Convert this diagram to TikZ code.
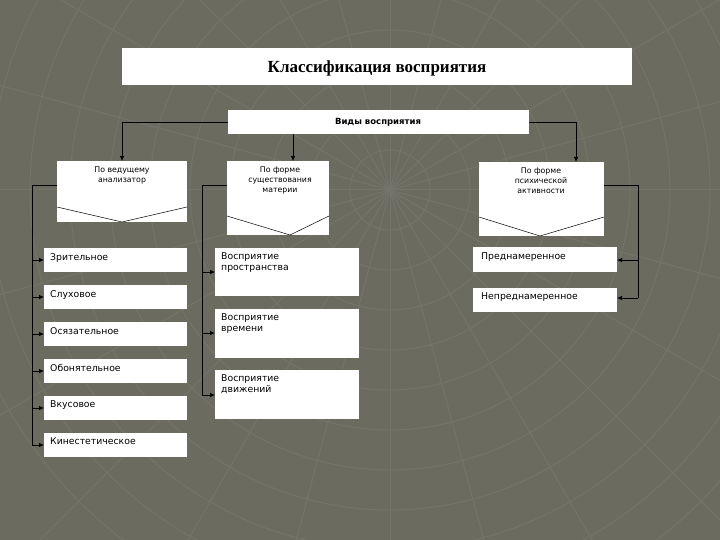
\documentclass[tikz,border=0pt]{standalone}
\usepackage{fontspec}
\setmainfont{Liberation Serif}
\newfontfamily\sfb{DejaVu Sans}
\usetikzlibrary{arrows.meta}
\definecolor{bg}{HTML}{6C6B60}
\definecolor{web}{HTML}{75746A}
\begin{document}
\begin{tikzpicture}[x=1pt,y=-1pt,
  itm/.style={font=\sfb\fontsize{9.3}{11}\selectfont,anchor=north west,align=left,inner sep=0},
  cat/.style={font=\sfb\fontsize{7.8}{10}\selectfont,align=center,anchor=north,inner sep=0},
  con/.style={draw=black,line width=0.7pt},
  arr/.style={con,-{Latex[length=5pt,width=4.5pt]}}]
\fill[bg] (0,0) rectangle (720,540);
\useasboundingbox (0,0) rectangle (720,540);
\begin{scope}
\clip (0,0) rectangle (720,540);
\foreach \r in {40,80,...,440} \draw[web,line width=1pt] (390,190) circle (\r);
\foreach \a in {0,15,...,345} \draw[web,line width=1pt] (390,190) -- ++(\a:500);
\end{scope}
% title
\fill[white] (122,48) rectangle (632,85);
\node (title) at (377,68) {\fontsize{17}{20}\selectfont\bfseries Классификация восприятия};
% vidy
\fill[white] (228,110) rectangle (529,134);
\node[font=\sfb\bfseries\fontsize{8.5}{10}\selectfont] (vidy) at (378,122) {Виды восприятия};
\coordinate (vL) at (228,122); \coordinate (vR) at (529,122); \coordinate (vB) at (293,134);
% categories
\fill[white] (57,161) rectangle (187,222);
\draw[line width=0.5pt] (57,207) -- (122,222) -- (187,207);
\node[cat] (c1) at (122,167) {По ведущему\\анализатор};
\fill[white] (227,161) rectangle (329,235);
\draw[line width=0.5pt] (227,216) -- (290,235) -- (329,216);
\node[cat] (c2) at (280,167) {По форме\\существования\\материи};
\fill[white] (479,162) rectangle (604,236);
\draw[line width=0.5pt] (479,217) -- (540,236) -- (604,217);
\node[cat] (c3) at (541,168) {По форме\\психической\\активности};
\coordinate (c1t) at (122,161); \coordinate (c2t) at (293,161); \coordinate (c3t) at (576,162);
\draw[arr] (vL) -| (c1t);
\draw[arr] (vB) -- (c2t);
\draw[arr] (vR) -| (c3t);
% left items
\foreach \n/\y/\t in {a1/248/Зрительное,a2/285/Слуховое,a3/322/Осязательное,a4/359/Обонятельное,a5/396/Вкусовое,a6/433/Кинестетическое}{
  \fill[white] (44,\y) rectangle (187,\y+24);
  \node[itm] (\n) at (50,\y+5) {\t};
  \coordinate (\n l) at (44,\y+12);
}
\coordinate (l0) at (57,185);
\draw[con] (l0) -| (32,445);
\foreach \n in {a1,a2,a3,a4,a5,a6} \draw[arr] (32,0 |- \n l) -- (\n l);
% middle items
\foreach \n/\y/\h/\t in {b1/248/48/{Восприятие\\пространства},b2/309/49/{Восприятие\\времени},b3/370/49/{Восприятие\\движений}}{
  \fill[white] (215,\y) rectangle (359,\y+\h);
  \node[itm] (\n) at (221,\y+5) {\t};
}
\coordinate (b1l) at (215,272); \coordinate (b2l) at (215,333); \coordinate (b3l) at (215,395);
\draw[con] (227,185) -| (202,395);
\foreach \n in {b1l,b2l,b3l} \draw[arr] (202,0 |- \n) -- (\n);
% right items
\fill[white] (473,247) rectangle (617,272);
\node[itm] (r1) at (481,253) {Преднамеренное};
\fill[white] (473,288) rectangle (617,312);
\node[itm] (r2) at (481,293) {Непреднамеренное};
\coordinate (r1r) at (617,260); \coordinate (r2r) at (617,298);
\draw[con] (604,185) -| (638,298);
\draw[arr] (638,260) -- (r1r);
\draw[arr] (638,298) -- (r2r);
\end{tikzpicture}
\end{document}
